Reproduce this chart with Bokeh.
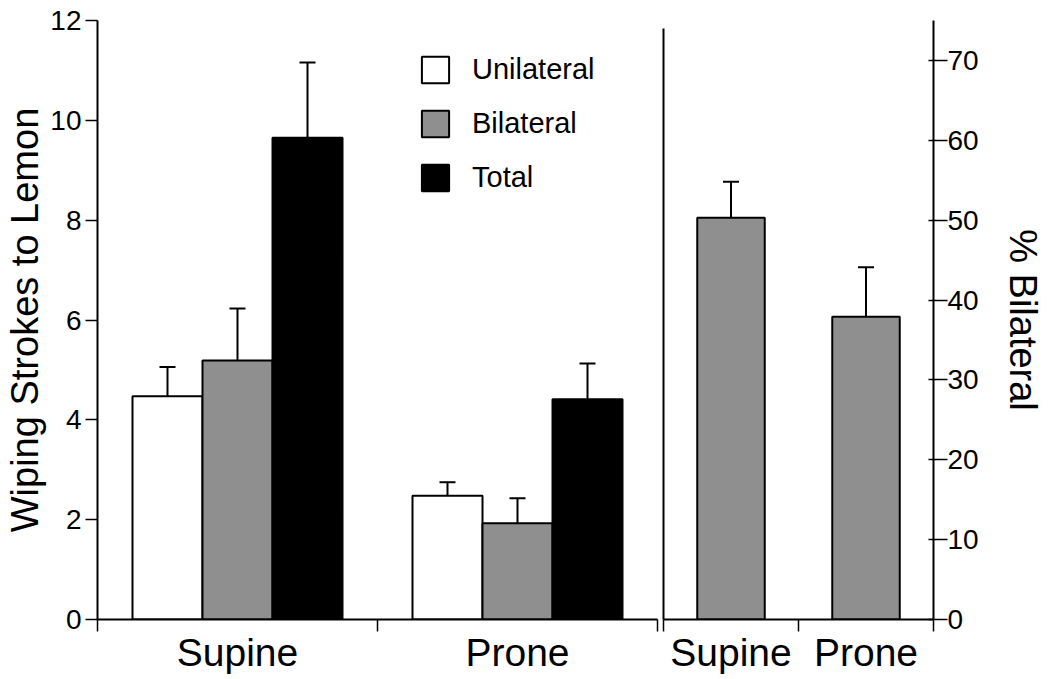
from bokeh.plotting import figure
from bokeh.layouts import row
from bokeh.models import ColumnDataSource, FixedTicker, LinearAxis, Range1d, Whisker, TeeHead
from bokeh.embed import file_html
from bokeh.resources import INLINE

# ---- data ----
categories = ["Supine", "Prone"]
unilateral = [4.47, 2.48]
unilateral_err = [0.59, 0.27]
bilateral = [5.19, 1.93]
bilateral_err = [1.04, 0.50]
total = [9.65, 4.41]
total_err = [1.51, 0.72]
pct_bilateral = [50.3, 37.9]
pct_bilateral_err = [4.5, 6.2]
left_ticks = [0, 2, 4, 6, 8, 10, 12]
right_ticks = [0, 10, 20, 30, 40, 50, 60, 70]

FONT = "Liberation Sans"
GRAY = "#8f8f8f"
n = len(categories)
centers = [i + 0.5 for i in range(n)]
edges = [float(i) for i in range(n + 1)]
labels = {c: name for c, name in zip(centers, categories)}

H = 678
TOP = 20
BOTTOM = 59


def style_bottom_axis(ax):
    ax.ticker = FixedTicker(ticks=centers, minor_ticks=edges)
    ax.major_label_overrides = labels
    ax.major_tick_out = 0
    ax.major_tick_in = 0
    ax.minor_tick_out = 12
    ax.minor_tick_in = 0
    ax.minor_tick_line_width = 1.5
    ax.minor_tick_line_color = "black"
    ax.axis_line_width = 2
    ax.axis_line_color = "black"
    ax.major_label_text_font = FONT
    ax.major_label_text_font_size = "39px"
    ax.major_label_text_color = "black"
    ax.major_label_standoff = -1


# ---- left panel ----
p1 = figure(width=660, height=H, x_range=Range1d(0, n), y_range=Range1d(0, 12),
            output_backend="svg", toolbar_location=None,
            min_border_left=97, min_border_right=3, min_border_top=TOP, min_border_bottom=BOTTOM)
p1.grid.visible = False
p1.outline_line_color = None
p1.background_fill_color = "white"
p1.border_fill_color = "white"

series = [
    ("Unilateral", unilateral, unilateral_err, "white", -0.25),
    ("Bilateral", bilateral, bilateral_err, GRAY, 0.0),
    ("Total", total, total_err, "black", 0.25),
]
for name, vals, errs, color, off in series:
    src = ColumnDataSource(dict(
        x=[c + off for c in centers],
        top=vals,
        upper=[v + e for v, e in zip(vals, errs)],
    ))
    p1.vbar(x="x", top="top", width=0.25, source=src, fill_color=color,
            line_color="black", line_width=2, legend_label=name)
    p1.add_layout(Whisker(source=src, base="x", lower="top", upper="upper",
                          line_color="black", line_width=2, lower_head=None,
                          upper_head=TeeHead(size=16, line_width=2, line_color="black")))

yax = p1.yaxis[0]
yax.ticker = FixedTicker(ticks=left_ticks)
yax.axis_label = "Wiping Strokes to Lemon"
yax.axis_label_text_font = FONT
yax.axis_label_text_font_size = "38px"
yax.axis_label_text_font_style = "normal"
yax.axis_label_text_color = "black"
yax.axis_label_standoff = 1
yax.major_label_text_font = FONT
yax.major_label_text_font_size = "28px"
yax.major_label_text_color = "black"
yax.major_label_standoff = 4
yax.major_tick_out = 12
yax.major_tick_in = 0
yax.major_tick_line_width = 1.5
yax.minor_tick_out = 0
yax.minor_tick_in = 0
yax.axis_line_width = 2
style_bottom_axis(p1.xaxis[0])

lg = p1.legend[0]
lg.location = (321, 425)
lg.glyph_width = 34
lg.glyph_height = 33
lg.label_height = 33
lg.spacing = 21
lg.label_standoff = 20
lg.padding = 0
lg.margin = 0
lg.label_text_font = FONT
lg.label_text_font_size = "29px"
lg.label_text_color = "black"
lg.border_line_color = None
lg.background_fill_alpha = 0

# ---- right panel ----
p2 = figure(width=386, height=H, x_range=Range1d(0, n), y_range=Range1d(0, 75),
            output_backend="svg", toolbar_location=None, y_axis_location="right",
            min_border_left=3, min_border_right=112, min_border_top=TOP, min_border_bottom=BOTTOM)
p2.grid.visible = False
p2.outline_line_color = None
p2.background_fill_color = "white"
p2.border_fill_color = "white"

src2 = ColumnDataSource(dict(
    x=centers,
    top=pct_bilateral,
    upper=[v + e for v, e in zip(pct_bilateral, pct_bilateral_err)],
))
p2.vbar(x="x", top="top", width=0.5, source=src2, fill_color=GRAY,
        line_color="black", line_width=2)
p2.add_layout(Whisker(source=src2, base="x", lower="top", upper="upper",
                      line_color="black", line_width=2, lower_head=None,
                      upper_head=TeeHead(size=16, line_width=2, line_color="black")))

rax = p2.yaxis[0]
rax.ticker = FixedTicker(ticks=right_ticks)
rax.axis_label = "% Bilateral"
rax.axis_label_text_font = FONT
rax.axis_label_text_font_size = "38px"
rax.axis_label_text_font_style = "normal"
rax.axis_label_text_color = "black"
rax.axis_label_standoff = 20
rax.major_label_text_font = FONT
rax.major_label_text_font_size = "28px"
rax.major_label_text_color = "black"
rax.major_label_standoff = 0
rax.major_tick_out = 14
rax.major_tick_in = 5
rax.major_tick_line_width = 1.5
rax.minor_tick_out = 0
rax.minor_tick_in = 0
rax.axis_line_width = 2

sep = LinearAxis(ticker=FixedTicker(ticks=[]), bounds=(0, 74), axis_line_width=2,
                 major_tick_out=0, major_tick_in=0, minor_tick_out=0, minor_tick_in=0,
                 major_label_text_font_size="0px", major_label_standoff=0)
p2.add_layout(sep, "left")
style_bottom_axis(p2.xaxis[0])

layout = row(p1, p2)
open("out.html", "w").write(file_html(layout, INLINE))
